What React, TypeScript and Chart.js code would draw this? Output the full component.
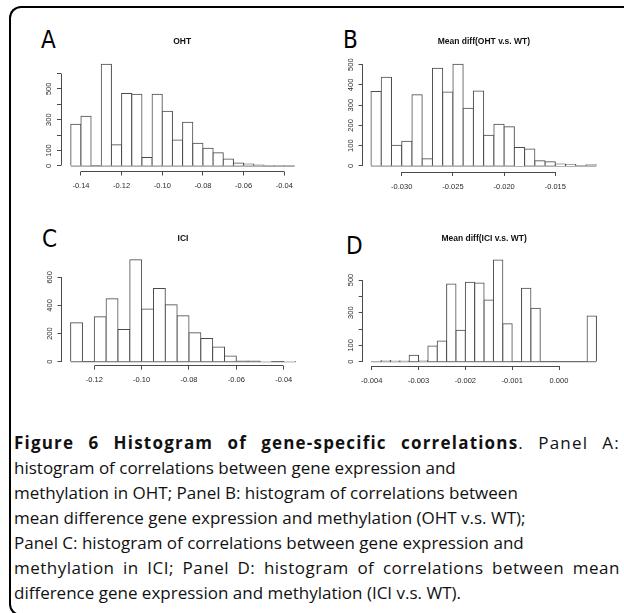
import React, { useEffect, useRef } from "react";
import { Chart, registerables } from "chart.js";

Chart.register(...registerables);

// ---------------- data ----------------
// Panel A: OHT
const aTitle = "OHT";
const aBinWidth = 0.005;
const aBinStarts = [-0.145, -0.14, -0.135, -0.13, -0.125, -0.12, -0.115, -0.11, -0.105, -0.1, -0.095, -0.09, -0.085, -0.08, -0.075, -0.07, -0.065, -0.06, -0.055, -0.05, -0.045, -0.04];
const aCounts = [270, 322, 0, 659, 138, 469, 464, 54, 464, 354, 168, 283, 147, 114, 86, 45, 19, 13, 6, 2, 1, 1];
const aXTickLabels = ["-0.14", "-0.12", "-0.10", "-0.08", "-0.06", "-0.04"];
const aYTicks = [0, 100, 200, 300, 400, 500, 600];
const aYTickLabels = ["0", "100", "", "300", "", "500", ""];

// Panel B: Mean diff(OHT v.s. WT)
const bTitle = "Mean diff(OHT v.s. WT)";
const bBinWidth = 0.001;
const bBinStarts = [-0.033, -0.032, -0.031, -0.03, -0.029, -0.028, -0.027, -0.026, -0.025, -0.024, -0.023, -0.022, -0.021, -0.02, -0.019, -0.018, -0.017, -0.016, -0.015, -0.014, -0.013, -0.012];
const bCounts = [367, 438, 102, 122, 352, 36, 482, 365, 502, 285, 370, 151, 206, 193, 91, 84, 26, 21, 10, 7, 2, 6];
const bXTickLabels = ["-0.030", "-0.025", "-0.020", "-0.015"];
const bYTicks = [0, 100, 200, 300, 400, 500];
const bYTickLabels = ["0", "100", "200", "300", "400", "500"];

// Panel C: ICI
const cTitle = "ICI";
const cBinWidth = 0.005;
const cBinStarts = [-0.13, -0.125, -0.12, -0.115, -0.11, -0.105, -0.1, -0.095, -0.09, -0.085, -0.08, -0.075, -0.07, -0.065, -0.06, -0.055, -0.05, -0.045, -0.04];
const cCounts = [277, 0, 320, 447, 229, 724, 375, 521, 404, 327, 205, 165, 105, 41, 5, 5, 1, 0, 1];
const cXTickLabels = ["-0.12", "-0.10", "-0.08", "-0.06", "-0.04"];
const cYTicks = [0, 200, 400, 600];
const cYTickLabels = ["0", "200", "400", "600"];

// Panel D: Mean diff(ICI v.s. WT)
const dTitle = "Mean diff(ICI v.s. WT)";
const dBinWidth = 0.0002;
const dBinStarts = [-0.004, -0.0038, -0.0036, -0.0034, -0.0032, -0.003, -0.0028, -0.0026, -0.0024, -0.0022, -0.002, -0.0018, -0.0016, -0.0014, -0.0012, -0.001, -0.0008, -0.0006, -0.0004, -0.0002, 0, 0.0002, 0.0004, 0.0006];
const dCounts = [1, 8, 4, 4, 39, 8, 96, 127, 476, 192, 486, 482, 378, 622, 233, 0, 449, 327, 0, 0, 0, 0, 0, 280];
const dXTickLabels = ["-0.004", "-0.003", "-0.002", "-0.001", "0.000"];
const dYTicks = [0, 100, 200, 300, 400, 500];
const dYTickLabels = ["0", "100", "", "300", "", "500"];

const captionBold = "Figure 6 Histogram of gene-specific correlations";
const captionLines = [
  ". Panel A:",
  "histogram of correlations between gene expression and",
  "methylation in OHT; Panel B: histogram of correlations between",
  "mean difference gene expression and methylation (OHT v.s. WT);",
  "Panel C: histogram of correlations between gene expression and",
  "methylation in ICI; Panel D: histogram of correlations between mean",
  "difference gene expression and methylation (ICI v.s. WT).",
];

// ---------------- styling / layout ----------------
const LINE = "#4a4a4a";
const TEXT = "#2a2a2a";
const AXIS_FONT = "'Liberation Sans', Arial, sans-serif";

type Layout = {
  canvas: [number, number, number, number]; // left, top, width, height (page)
  area: [number, number, number, number]; // left, top, right, bottom (page)
  titleY: number;
  xRange: [number, number];
  yRange: [number, number];
  tickFont: number;
};

const layoutA: Layout = { canvas: [0, 20, 312, 180], area: [61, 59.5, 303.4, 171.5], titleY: 41.7, xRange: [-0.1498, -0.0306], yRange: [-36, 690], tickFont: 7.5 };
const layoutB: Layout = { canvas: [312, 20, 312, 180], area: [362.5, 60, 605.3, 172], titleY: 41.7, xRange: [-0.03383, -0.01012], yRange: [-30, 523], tickFont: 7.5 };
const layoutC: Layout = { canvas: [0, 215, 312, 180], area: [61.5, 255.8, 304.5, 365.7], titleY: 238.3, xRange: [-0.13385, -0.03121], yRange: [-28.4, 752.8], tickFont: 7.5 };
const layoutD: Layout = { canvas: [312, 215, 312, 180], area: [362.7, 256, 605.5, 366], titleY: 238.3, xRange: [-0.004192, 0.000993], yRange: [-26.3, 646.9], tickFont: 7.5 };

const rAxisPlugin = {
  id: "rAxis",
  afterDraw(chart: any) {
    const { ctx, chartArea, scales } = chart;
    const xs = scales.x;
    const ys = scales.y;
    const align = (p: number) => Math.round(p - 0.5) + 0.5;
    ctx.save();
    ctx.strokeStyle = LINE;
    ctx.lineWidth = 1;
    const xt = xs.ticks;
    const yb = align(chartArea.bottom);
    ctx.beginPath();
    ctx.moveTo(align(xs.getPixelForValue(xt[0].value)), yb);
    ctx.lineTo(align(xs.getPixelForValue(xt[xt.length - 1].value)), yb);
    ctx.stroke();
    const yt = ys.ticks;
    const xl = align(chartArea.left);
    ctx.beginPath();
    ctx.moveTo(xl, align(ys.getPixelForValue(yt[0].value)));
    ctx.lineTo(xl, align(ys.getPixelForValue(yt[yt.length - 1].value)));
    ctx.stroke();
    ctx.restore();
  },
};

type HistProps = {
  layout: Layout;
  title: string;
  binStarts: number[];
  binWidth: number;
  counts: number[];
  xTickLabels: string[];
  yTicks: number[];
  yTickLabels: string[];
};

function Histogram(p: HistProps) {
  const ref = useRef<HTMLCanvasElement | null>(null);
  const [cx, cy, cw, ch] = p.layout.canvas;
  useEffect(() => {
    if (!ref.current) return;
    const L = p.layout;
    const areaL = L.area[0] - cx;
    const areaT = L.area[1] - cy;
    const areaR = L.area[2] - cx;
    const areaB = L.area[3] - cy;
    const titleSize = 8.5;
    const titleLH = titleSize * 1.2;
    const titleCenter = L.titleY - cy;
    const padTop = titleCenter - titleLH / 2;
    const padBottom = areaT - titleLH - padTop;
    const xTickValues = p.xTickLabels.map((s) => parseFloat(s));
    const tickFont = { family: AXIS_FONT, size: L.tickFont };
    const last = p.binStarts.length - 1;
    const chart = new Chart(ref.current, {
      type: "bar",
      data: {
        datasets: [
          {
            type: "bar",
            data: p.binStarts.map((s, i) => ({ x: s + p.binWidth / 2, y: p.counts[i] })),
            backgroundColor: "#ffffff",
            borderColor: LINE,
            borderWidth: 1,
            borderSkipped: "start",
            barPercentage: 1,
            categoryPercentage: 1,
            inflateAmount: 0.5,
          } as any,
          {
            type: "line",
            data: [
              { x: p.binStarts[0], y: 0 },
              { x: p.binStarts[last] + p.binWidth, y: 0 },
            ],
            borderColor: LINE,
            borderWidth: 1,
            pointRadius: 0,
            fill: false,
          } as any,
        ],
      },
      options: {
        responsive: false,
        animation: false,
        devicePixelRatio: 1,
        layout: { padding: { left: 0, top: 0, right: cw - areaR, bottom: 0 } },
        plugins: {
          legend: { display: false },
          tooltip: { enabled: false },
          title: {
            display: true,
            text: p.title,
            fullSize: false,
            align: "center",
            color: "#111",
            font: { family: AXIS_FONT, size: titleSize, weight: "bold", lineHeight: 1.2 },
            padding: { top: padTop, bottom: padBottom },
          },
        },
        scales: {
          x: {
            type: "linear",
            position: "bottom",
            offset: false,
            min: L.xRange[0],
            max: L.xRange[1],
            bounds: "data",
            afterBuildTicks: (s: any) => {
              s.ticks = xTickValues.map((v) => ({ value: v }));
            },
            afterFit: (s: any) => {
              s.height = ch - areaB;
            },
            ticks: {
              autoSkip: false,
              maxRotation: 0,
              minRotation: 0,
              padding: 6,
              color: TEXT,
              font: tickFont,
              callback: (_v: any, i: number) => p.xTickLabels[i],
            },
            grid: { offset: false, drawOnChartArea: false, drawTicks: true, tickLength: 4, color: LINE, lineWidth: 1 },
            border: { display: false },
          },
          y: {
            type: "linear",
            position: "left",
            offset: false,
            min: L.yRange[0],
            max: L.yRange[1],
            bounds: "data",
            afterBuildTicks: (s: any) => {
              s.ticks = p.yTicks.map((v) => ({ value: v }));
            },
            afterFit: (s: any) => {
              s.width = areaL;
            },
            ticks: {
              autoSkip: false,
              minRotation: 90,
              maxRotation: 90,
              crossAlign: "center",
              padding: 1.75,
              color: TEXT,
              font: tickFont,
              callback: (_v: any, i: number) => p.yTickLabels[i],
            },
            grid: { offset: false, drawOnChartArea: false, drawTicks: true, tickLength: 4, color: LINE, lineWidth: 1 },
            border: { display: false },
          },
        },
      } as any,
      plugins: [rAxisPlugin as any],
    });
    return () => chart.destroy();
  }, []);
  return (
    <canvas
      ref={ref}
      width={cw}
      height={ch}
      style={{ position: "absolute", left: cx, top: cy, width: cw, height: ch }}
    />
  );
}

const letterStyle: React.CSSProperties = {
  position: "absolute",
  fontFamily: "'Liberation Sans Narrow', 'DejaVu Sans Condensed', sans-serif",
  fontSize: 24,
  lineHeight: "24px",
  color: "#000",
};

export default function App() {
  return (
    <div
      style={{
        position: "fixed",
        left: 0,
        top: 0,
        width: 624,
        height: 613,
        overflow: "hidden",
        background: "#fff",
      }}
    >
      <div
        style={{
          position: "absolute",
          left: 9,
          top: 6,
          width: 700,
          height: 610,
          boxSizing: "border-box",
          borderTop: "2px solid #000",
          borderLeft: "2px solid #000",
          borderBottom: "2px solid #000",
          borderTopLeftRadius: 12,
          borderBottomLeftRadius: 12,
        }}
      />
      <div style={{ ...letterStyle, left: 41, top: 28 }}>A</div>
      <div style={{ ...letterStyle, left: 343, top: 28 }}>B</div>
      <div style={{ ...letterStyle, left: 42, top: 227 }}>C</div>
      <div style={{ ...letterStyle, left: 346, top: 234 }}>D</div>

      <Histogram layout={layoutA} title={aTitle} binStarts={aBinStarts} binWidth={aBinWidth} counts={aCounts} xTickLabels={aXTickLabels} yTicks={aYTicks} yTickLabels={aYTickLabels} />
      <Histogram layout={layoutB} title={bTitle} binStarts={bBinStarts} binWidth={bBinWidth} counts={bCounts} xTickLabels={bXTickLabels} yTicks={bYTicks} yTickLabels={bYTickLabels} />
      <Histogram layout={layoutC} title={cTitle} binStarts={cBinStarts} binWidth={cBinWidth} counts={cCounts} xTickLabels={cXTickLabels} yTicks={cYTicks} yTickLabels={cYTickLabels} />
      <Histogram layout={layoutD} title={dTitle} binStarts={dBinStarts} binWidth={dBinWidth} counts={dCounts} xTickLabels={dXTickLabels} yTicks={dYTicks} yTickLabels={dYTickLabels} />

      <div
        style={{
          position: "absolute",
          left: 14,
          top: 430,
          width: 606,
          fontFamily: "'Open Sans', 'Noto Sans', sans-serif",
          fontSize: 17,
          lineHeight: "25px",
          color: "#111",
          whiteSpace: "nowrap",
        }}
      >
        <div style={{ whiteSpace: "normal", textAlign: "justify", textAlignLast: "justify", letterSpacing: 1.2 }}>
          <b>{captionBold}</b>
          {captionLines[0]}
        </div>
        <div>{captionLines[1]}</div>
        <div>{captionLines[2]}</div>
        <div>{captionLines[3]}</div>
        <div>{captionLines[4]}</div>
        <div style={{ whiteSpace: "normal", textAlign: "justify", textAlignLast: "justify", letterSpacing: 0.5 }}>
          {captionLines[5]}
        </div>
        <div>{captionLines[6]}</div>
      </div>
    </div>
  );
}
